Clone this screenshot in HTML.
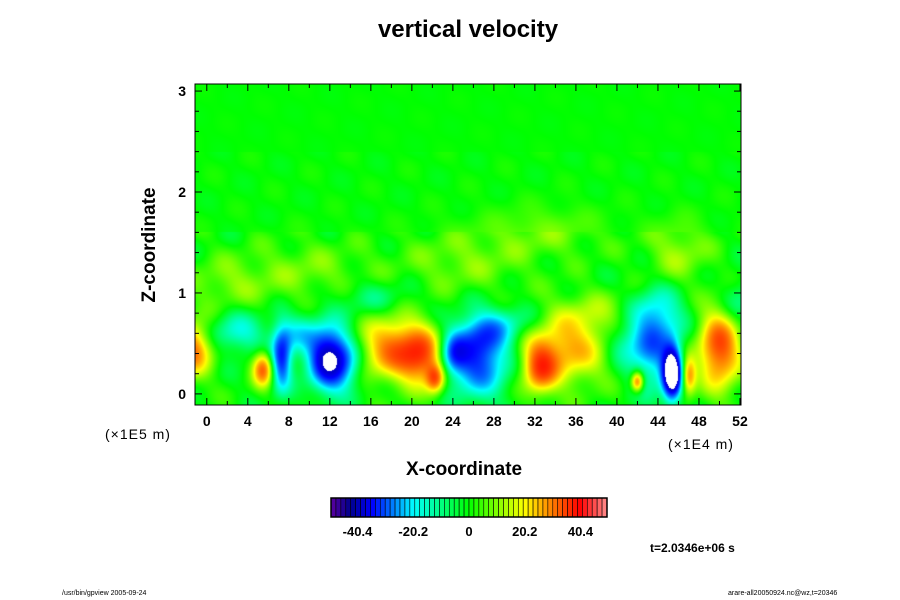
<!DOCTYPE html>
<html><head><meta charset="utf-8"><style>
body{margin:0;background:#fff;}
#root{position:relative;width:900px;height:600px;font-family:"Liberation Sans",sans-serif;color:#000;overflow:hidden}
.t{position:absolute;white-space:nowrap;font-weight:bold}
</style></head><body>
<div id="root">
<div class="t" style="left:0;width:936px;text-align:center;top:16px;font-size:24px">vertical velocity</div>
<canvas id="cv" width="546" height="321" style="position:absolute;left:195px;top:84px"></canvas>
<svg id="ax" width="900" height="600" style="position:absolute;left:0;top:0"></svg>
<div class="t" style="left:150px;top:245px;font-size:19px;transform:translate(-50%,-50%) rotate(-90deg)">Z-coordinate</div>
<div class="t" style="left:406px;top:459px;font-size:19px">X-coordinate</div>
<div class="t" style="left:105px;top:426px;font-size:14px;font-weight:normal;letter-spacing:1px">(×1E5 m)</div>
<div class="t" style="left:668px;top:436px;font-size:14px;font-weight:normal;letter-spacing:1px">(×1E4 m)</div>
<div class="t" style="left:650px;top:541px;font-size:12px">t=2.0346e+06 s</div>
<div class="t" style="left:62px;top:590px;font-size:7px;font-weight:normal">/usr/bin/gpview 2005-09-24</div>
<div class="t" style="left:728px;top:590px;font-size:7px;font-weight:normal">arare-all20050924.nc@wz,t=20346</div>
</div>
<script>
const xTicks=[0,4,8,12,16,20,24,28,32,36,40,44,48,52];
const yTicks=[0,1,2,3];
const cbLabels=[-40.4,-20.2,0,20.2,40.4];
// blobs: x (1E4 m), z (1E5 m), value, radius x, radius z
const blobX=[-1.5,5.5,7.3,12,18.5,21,22.3,26.5,24,35,32.5,43.5,45.4,42,50,47,14,3,30,38,10,25,46,2,16,33,44,27,9,40.5,52];
const blobZ=[0.45,0.25,0.35,0.35,0.45,0.35,0.15,0.35,0.4,0.45,0.25,0.45,0.2,0.12,0.45,0.18,0.3,0.6,0.7,0.8,1.2,1.3,1.4,1.1,0.95,1.6,0.8,0.6,0.6,0.5,0.9];
const blobV=[40,40,-42,-62,38,30,36,-40,-26,30,36,-30,-75,42,45,34,-12,-18,-12,9,9,9,12,9,-10,8,-16,-14,-16,-14,-12];
const blobRX=[2,1,1,2,3.6,2,0.9,3,1.3,4.2,1.6,2.4,0.9,0.6,2,0.7,1.5,3,3,4,6,6,3,4,4,6,2.5,2.5,2,2,2];
const blobRZ=[0.26,0.17,0.3,0.3,0.3,0.26,0.14,0.36,0.2,0.34,0.24,0.4,0.25,0.1,0.38,0.18,0.25,0.2,0.18,0.22,0.3,0.3,0.3,0.25,0.18,0.25,0.25,0.2,0.2,0.2,0.25];
const X0=-1.15,X1=52.1,Z0=-0.11,Z1=3.07,L=195,T=84,W=546,H=321;
const sx=v=>L+(v-X0)/(X1-X0)*W, sz=v=>T+H-(v-Z0)/(Z1-Z0)*H;
const stops=[[-50,90,0,160],[-43,0,0,140],[-35,0,0,255],[-20,0,255,255],[0,0,255,0],[20,255,255,0],[40,255,0,0],[50,255,140,140]];
function cmap(v){if(v<-50)v=-50;if(v>50)v=50;
for(let i=0;i<stops.length-1;i++){const a=stops[i],b=stops[i+1];if(v<=b[0]){const t=Math.max(0,(v-a[0])/(b[0]-a[0]));return[a[1]+(b[1]-a[1])*t,a[2]+(b[2]-a[2])*t,a[3]+(b[3]-a[3])*t];}}return[255,140,140];}
const cv=document.getElementById('cv'),ctx=cv.getContext('2d'),img=ctx.createImageData(W,H);
for(let py=0;py<H;py++){const z=Z1-(py+0.5)/H*(Z1-Z0);for(let px=0;px<W;px++){const x=X0+(px+0.5)/W*(X1-X0);let v=0;
for(let k=0;k<blobX.length;k++){const dx=(x-blobX[k])/blobRX[k],dz=(z-blobZ[k])/blobRZ[k];const d=dx*dx+dz*dz;if(d<9)v+=blobV[k]*Math.exp(-d);}
const amp=z<1.6?3:(z<2.4?1.3:0.5);
v+=amp*(Math.sin(x*1.3+z*9)+0.7*Math.sin(x*0.7-z*14));
let c;if(v<-58)c=[255,255,255];else c=cmap(46*Math.tanh(v/46));
const o=(py*W+px)*4;img.data[o]=c[0];img.data[o+1]=c[1];img.data[o+2]=c[2];img.data[o+3]=255;}}
ctx.putImageData(img,0,0);
const ax=document.getElementById('ax');const NS='http://www.w3.org/2000/svg';
function mk(tag,at,name){const e=document.createElementNS(NS,tag);for(const k in at)e.setAttribute(k,at[k]);


ax.appendChild(e);return e;}
mk('rect',{x:L,y:T,width:W,height:H,fill:'none',stroke:'#000','stroke-width':1},'plot-frame');
for(let v=0;v<=52;v+=2){const x=sx(v),len=v%4===0?7:4;
mk('line',{x1:x,x2:x,y1:T+H,y2:T+H-len,stroke:'#000'},'x-tick');
mk('line',{x1:x,x2:x,y1:T,y2:T+len,stroke:'#000'},'x-tick-top');}
xTicks.forEach(v=>{const t=mk('text',{x:sx(v),y:426,'text-anchor':'middle','font-size':14,'font-weight':'bold','font-family':'Liberation Sans'},'x-tick-label');t.textContent=v;});
for(let v=0;v<=3.0001;v+=0.2){const y=sz(v),len=Math.abs(v-Math.round(v))<0.01?7:4;
mk('line',{x1:L,x2:L+len,y1:y,y2:y,stroke:'#000'},'y-tick');
mk('line',{x1:L+W,x2:L+W-len,y1:y,y2:y,stroke:'#000'},'y-tick-right');}
yTicks.forEach(v=>{const t=mk('text',{x:186,y:sz(v)+5,'text-anchor':'end','font-size':14,'font-weight':'bold','font-family':'Liberation Sans'},'y-tick-label');t.textContent=v;});
const CB0=331,CB1=607,CBT=498,CBH=19,N=56;
for(let i=0;i<N;i++){const v=-50+(i+0.5)*100/N;const c=cmap(v);const w=(CB1-CB0)/N;
mk('rect',{x:CB0+i*w,y:CBT,width:w,height:CBH,fill:`rgb(${c.map(Math.round).join(',')})`,stroke:'#000','stroke-width':0.6},'colorbar-cell');}
mk('rect',{x:CB0,y:CBT,width:CB1-CB0,height:CBH,fill:'none',stroke:'#000','stroke-width':1.5},'colorbar-frame');
cbLabels.forEach(v=>{const t=mk('text',{x:CB0+(v+50)/100*(CB1-CB0),y:536,'text-anchor':'middle','font-size':13,'font-weight':'bold','font-family':'Liberation Sans'},'colorbar-label');t.textContent=v;});
</script>
</body></html>
